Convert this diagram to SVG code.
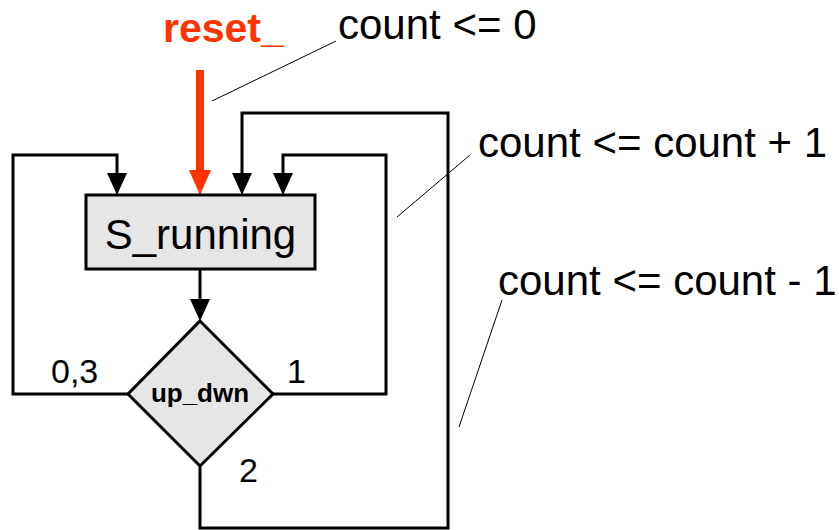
<svg xmlns="http://www.w3.org/2000/svg" width="839" height="530" viewBox="0 0 839 530">
<style>
text{font-family:"Liberation Sans",Arial,sans-serif;fill:#000}
.big{font-size:42px}
.num{font-size:34px}
.conn{fill:none;stroke:#000;stroke-width:3}
.lead{fill:none;stroke:#000;stroke-width:1}
.shape{fill:#e6e6e6;stroke:#000;stroke-width:3}
</style>
<defs>
<marker id="ah" markerUnits="userSpaceOnUse" viewBox="0 0 22 20" refX="0" refY="10" markerWidth="22" markerHeight="20" orient="auto">
<path d="M0,0 L22,10 L0,20 z" fill="#000"/>
</marker>
<marker id="ahr" markerUnits="userSpaceOnUse" viewBox="0 0 25 22" refX="0" refY="11" markerWidth="25" markerHeight="22" orient="auto">
<path d="M0,0 L25,11 L0,22 z" fill="#ff3300"/>
</marker>
</defs>
<rect width="839" height="530" fill="#fff"/>
<g id="connectors">
<path class="conn" d="M200,269 V299" marker-end="url(#ah)"/>
<path d="M200,70 V170" fill="none" stroke="#ff3300" stroke-width="8" marker-end="url(#ahr)"/>
<path class="conn" d="M128,394 H13 V155 H117 V173" marker-end="url(#ah)"/>
<path class="conn" d="M200,466 V528 H448 V113 H242 V173" marker-end="url(#ah)"/>
<path class="conn" d="M273,394 H386 V155 H283 V173" marker-end="url(#ah)"/>
<line class="lead" x1="212" y1="101" x2="336" y2="41"/>
<line class="lead" x1="397" y1="217" x2="470" y2="155"/>
<line class="lead" x1="459" y1="427" x2="502" y2="300"/>
</g>
<g id="reset">
<text x="163" y="42" style="font-size:41px;font-weight:bold;fill:#ff3300">reset_</text>
</g>
<g id="S_running">
<rect class="shape" x="86" y="195" width="229" height="74"/>
<text class="big" x="200.5" y="249" text-anchor="middle">S_running</text>
</g>
<g id="up_dwn">
<polygon class="shape" points="200,321 273,394 200,466 128,394"/>
<text x="200" y="402" text-anchor="middle" style="font-size:26px;font-weight:bold">up_dwn</text>
</g>
<g id="labels">
<text class="big" x="338" y="39">count &lt;= 0</text>
<text class="big" x="478" y="157">count &lt;= count + 1</text>
<text class="big" x="498" y="295">count &lt;= count - 1</text>
<text class="num" x="51" y="383">0,3</text>
<text class="num" x="287" y="383">1</text>
<text class="num" x="239" y="482">2</text>
</g>
</svg>
